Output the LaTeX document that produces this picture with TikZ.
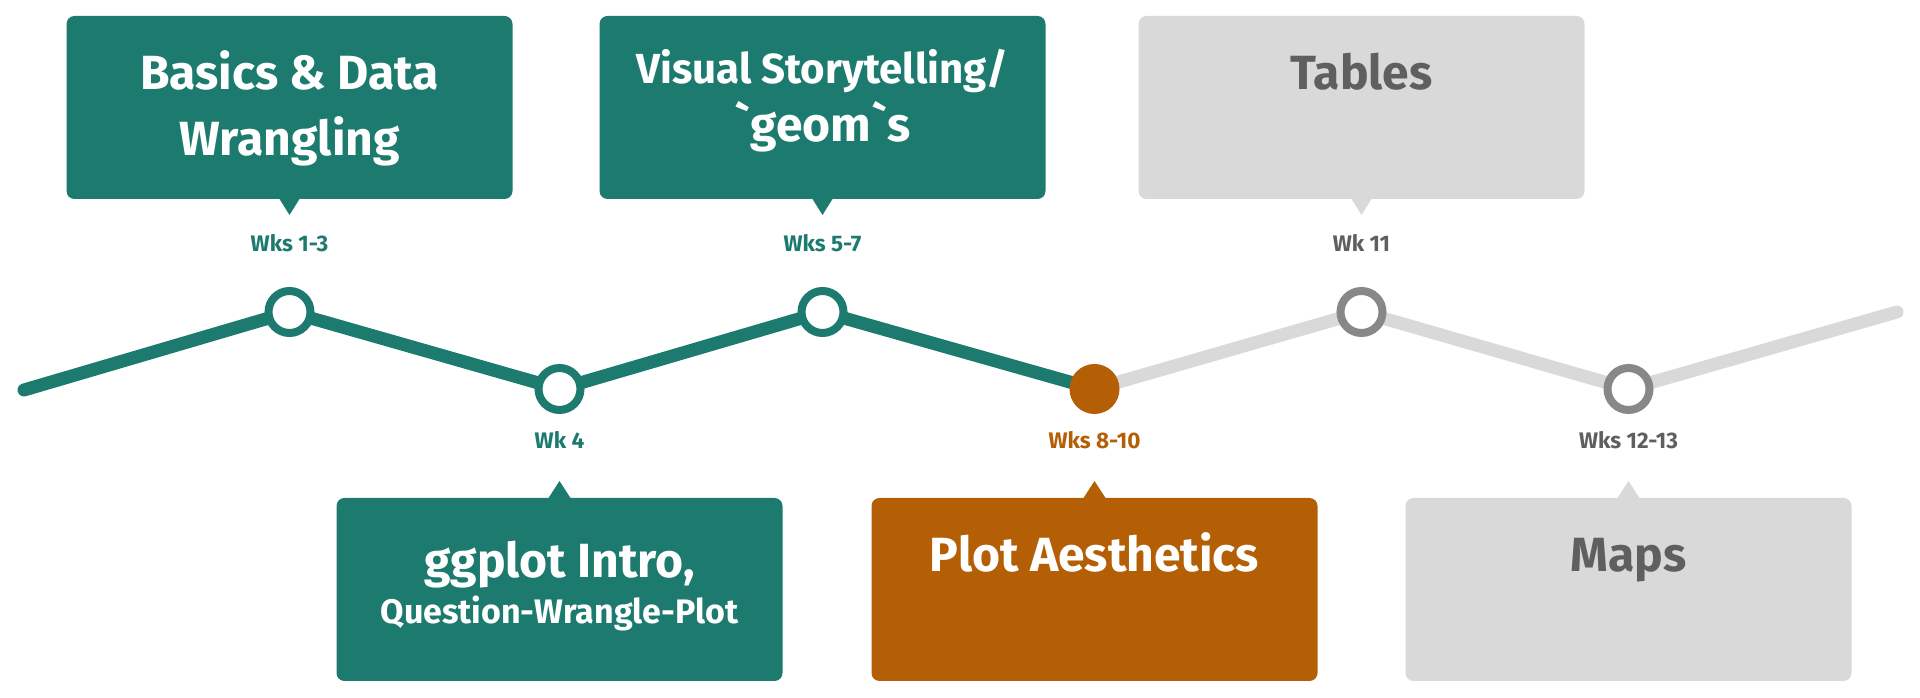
\documentclass[tikz,border=0pt]{standalone}
\usepackage{fontspec}
\setmainfont{Fira Sans}
\usetikzlibrary{positioning, backgrounds}

\definecolor{tealdone}{HTML}{1C7A6E}
\definecolor{orangenow}{HTML}{B45F06}
\definecolor{greybox}{HTML}{D9D9D9}
\definecolor{greyring}{HTML}{888888}
\definecolor{greytext}{HTML}{5F5F5F}

\begin{document}
\begin{tikzpicture}[
      x=1pt, y=1pt,
      wkdot/.style={
        circle,
        draw=#1,
        line width=8pt,
        fill=white,
        minimum size=42pt,
        inner sep=0pt
      },
      nowdot/.style={circle, fill=orangenow, minimum size=50pt, inner sep=0pt},
      wk/.style={font=\bfseries\fontsize{22.5}{26}\selectfont, text=#1, inner sep=0pt},
      box/.style={
        rectangle,
        rounded corners=8pt,
        fill=#1,
        minimum width=446pt,
        minimum height=183pt,
        inner sep=0pt,
        outer sep=0pt
      },
      boxtitle/.style={font=\bfseries\fontsize{48}{66}\selectfont, text=#1, align=center, inner sep=0pt},
      subtitle/.style={font=\bfseries\fontsize{34}{40}\selectfont, text=#1, inner sep=0pt},
      track/.style={line width=13pt, line cap=round, line join=round}
    ]
    \useasboundingbox (0,0) rectangle (1920,698);

    % points on the timeline
    \coordinate (start) at (24,308);
    \node[wkdot=tealdone] (wk1) at (289.5,386) {};
    \node[wkdot=tealdone] (wk4) at (559.5,309) {};
    \node[wkdot=tealdone] (wk5) at (822.5,386) {};
    \node[nowdot] (wk8) at (1094.5,309) {};
    \node[wkdot=greyring] (wk11) at (1361.5,386) {};
    \node[wkdot=greyring] (wk12) at (1628.5,309) {};
    \coordinate (end) at (1897,386);

    % week labels
    \node[wk=tealdone, above=60pt of wk1.center, anchor=base] (lab1) {Wks 1-3};
    \node[wk=tealdone, below=60pt of wk4.center, anchor=base] (lab4) {Wk 4};
    \node[wk=tealdone, above=60pt of wk5.center, anchor=base] (lab5) {Wks 5-7};
    \node[wk=orangenow, below=60pt of wk8.center, anchor=base] (lab8) {Wks 8-10};
    \node[wk=greytext, above=60pt of wk11.center, anchor=base] (lab11) {Wk 11};
    \node[wk=greytext, below=60pt of wk12.center, anchor=base] (lab12) {Wks 12-13};

    % topic boxes
    \node[box=tealdone, above=113pt of wk1.center] (basics) {};
    \node[box=tealdone, below=109pt of wk4.center] (ggplot) {};
    \node[box=tealdone, above=113pt of wk5.center] (visual) {};
    \node[box=orangenow, below=109pt of wk8.center] (aes) {};
    \node[box=greybox, above=113pt of wk11.center] (tables) {};
    \node[box=greybox, below=109pt of wk12.center] (maps) {};

    % pointers
    \fill[tealdone] ([xshift=-10pt]basics.south) -- ([xshift=10pt]basics.south) -- ([yshift=-16pt]basics.south) -- cycle;
    \fill[tealdone] ([xshift=-10pt]visual.south) -- ([xshift=10pt]visual.south) -- ([yshift=-16pt]visual.south) -- cycle;
    \fill[greybox] ([xshift=-10pt]tables.south) -- ([xshift=10pt]tables.south) -- ([yshift=-16pt]tables.south) -- cycle;
    \fill[tealdone] ([xshift=-11pt]ggplot.north) -- ([xshift=11pt]ggplot.north) -- ([yshift=17pt]ggplot.north) -- cycle;
    \fill[orangenow] ([xshift=-11pt]aes.north) -- ([xshift=11pt]aes.north) -- ([yshift=17pt]aes.north) -- cycle;
    \fill[greybox] ([xshift=-11pt]maps.north) -- ([xshift=11pt]maps.north) -- ([yshift=17pt]maps.north) -- cycle;

    % titles (base = last line)
    \node[boxtitle=white, below=139.5pt of basics.north, anchor=base] (basicstxt) {Basics \& Data\\Wrangling};
    \node[boxtitle=white, below=80pt of ggplot.north, anchor=base] (ggplottxt) {ggplot Intro,};
    \node[subtitle=white, below=126pt of ggplot.north, anchor=base] (ggplotsub) {Question-Wrangle-Plot};
    \node[boxtitle=white, below=126pt of visual.north, anchor=base] (visualtxt)
      {{\fontsize{42}{66}\selectfont Visual Storytelling/}\\[-8pt]\textasciigrave geom\textasciigrave s};
    \node[boxtitle=white, below=73.5pt of aes.north, anchor=base] (aestxt) {Plot Aesthetics};
    \node[boxtitle=greytext, below=73.5pt of tables.north, anchor=base] (tablestxt) {Tables};
    \node[boxtitle=greytext, below=73.5pt of maps.north, anchor=base] (mapstxt) {Maps};

    \begin{scope}[on background layer]
      \draw[track, greybox] (wk8.center) -- (wk11.center) -- (wk12.center) -- (end);
      \draw[track, tealdone] (start) -- (wk1.center) -- (wk4.center) -- (wk5.center) -- (wk8.center);
    \end{scope}
  \end{tikzpicture}
\end{document}
